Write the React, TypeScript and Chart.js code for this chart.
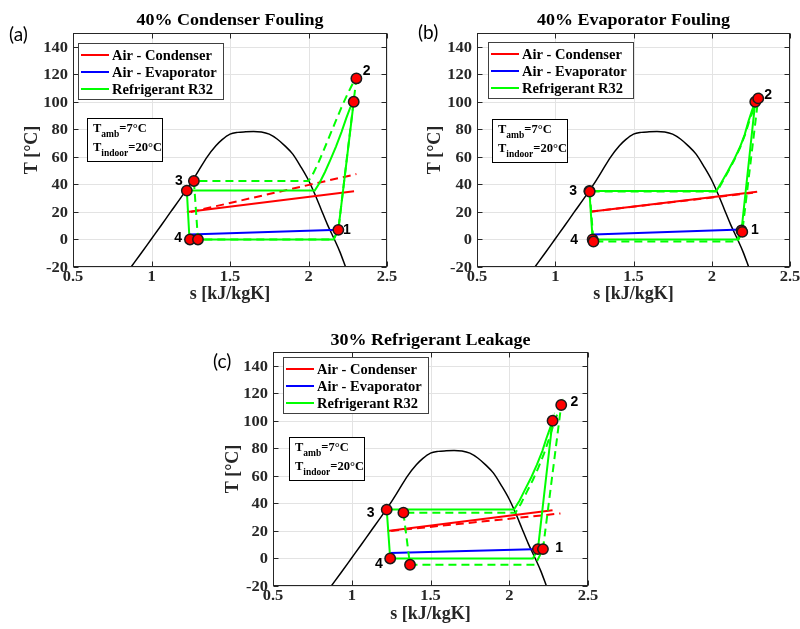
import React, { useEffect, useRef } from 'react';
import { Chart, registerables } from 'chart.js';
Chart.register(...registerables);

const SERIF = '"Liberation Serif", "Times New Roman", serif';
const SANS = '"Liberation Sans", Arial, sans-serif';

// Saturation dome of R32 (s in kJ/kgK, T in °C)
const domeS = [0.87, 0.934, 0.997, 1.06, 1.122, 1.185, 1.245, 1.3, 1.355, 1.41, 1.45, 1.5, 1.55, 1.6, 1.65, 1.7, 1.75, 1.8, 1.85, 1.9, 1.95, 2.0, 2.04, 2.08, 2.12, 2.165, 2.2, 2.236];
const domeT = [-20, -10, 0, 10, 20, 30, 40, 50, 60, 68, 72.5, 76.5, 77.8, 78.2, 78.4, 78.1, 76.5, 73, 68, 62, 53, 43, 33, 22, 11, 0, -9, -20];

// Axis ticks
const xTickValues = [0.5, 1, 1.5, 2, 2.5];
const xTickLabels = ['0.5', '1', '1.5', '2', '2.5'];
const yTickValues = [-20, 0, 20, 40, 60, 80, 100, 120, 140];
const yTickLabels = ['-20', '0', '20', '40', '60', '80', '100', '120', '140'];
const legendLabels = ['Air - Condenser', 'Air - Evaporator', 'Refrigerant R32'];

// (a) 40% Condenser Fouling
const aCondS = [1.225, 2.29];
const aCondT = [20, 35];
const aCondFaultS = [1.25, 2.305];
const aCondFaultT = [20, 47.5];
const aEvapS = [1.242, 2.195];
const aEvapT = [3.7, 7.1];
const aCycleS = [1.225, 1.242, 2.16, 2.19, 2.288, 2.265, 2.24, 2.21, 2.175, 2.14, 2.105, 2.07, 2.04, 1.225];
const aCycleT = [35.5, 0, 0, 7, 100, 95.5, 88, 78, 67.5, 58, 49, 41, 35.5, 35.5];
const aFaultS = [1.27, 1.296, 2.16, 2.19, 2.305, 2.285, 2.25, 2.21, 2.17, 2.13, 2.094, 2.06, 2.03, 2.0, 1.27];
const aFaultT = [42.5, 0, 0, 7, 117, 114, 106, 96, 85, 74, 64, 55, 48, 42.5, 42.5];
const aMarkS = [1.225, 1.27, 1.245, 1.296, 2.19, 2.288, 2.305];
const aMarkT = [35.5, 42.5, 0, 0, 7, 100, 117];
const aLabelText = ['1', '2', '3', '4'];
const aLabelS = [2.245, 2.37, 1.175, 1.17];
const aLabelT = [7, 122, 42.5, 1];

// (b) 40% Evaporator Fouling
const bCondS = [1.222, 2.29];
const bCondT = [20.2, 34.6];
const bCondFaultS = [1.222, 2.295];
const bCondFaultT = [20.2, 34.3];
const bEvapS = [1.244, 2.19];
const bEvapT = [3.7, 7.2];
const bCycleS = [1.218, 1.239, 2.162, 2.19, 2.278, 2.258, 2.235, 2.21, 2.18, 2.14, 2.1, 2.06, 2.03, 1.218];
const bCycleT = [35.3, 0, 0, 6.5, 100, 94, 86, 76, 67, 57.5, 49, 41, 35.3, 35.3];
const bFaultS = [1.22, 1.244, 2.165, 2.195, 2.297, 2.265, 2.24, 2.212, 2.182, 2.143, 2.103, 2.064, 2.034, 1.22];
const bFaultT = [34.8, -1.5, -1.5, 5.5, 102.5, 94, 86, 76, 67, 57.5, 49, 41, 34.8, 34.8];
const bMarkS = [1.218, 1.22, 1.239, 1.244, 2.19, 2.195, 2.278, 2.297];
const bMarkT = [35.3, 34.8, 0, -1.5, 6.5, 5.5, 100, 102.5];
const bLabelText = ['1', '2', '3', '4'];
const bLabelS = [2.276, 2.36, 1.115, 1.12];
const bLabelT = [6.9, 104.5, 35.4, -0.4];

// (c) 30% Refrigerant Leakage
const cCondS = [1.227, 2.275];
const cCondT = [20, 35];
const cCondFaultS = [1.25, 2.325];
const cCondFaultT = [20, 32.7];
const cEvapS = [1.244, 2.208];
const cEvapT = [3.9, 6.8];
const cCycleS = [1.222, 1.244, 2.15, 2.182, 2.275, 2.257, 2.235, 2.21, 2.175, 2.14, 2.1, 2.065, 2.03, 1.222];
const cCycleT = [35.5, 0, 0, 6.8, 100, 94, 87, 78, 68, 59, 50, 42, 35.5, 35.5];
const cFaultS = [1.328, 1.37, 2.165, 2.214, 2.33, 2.295, 2.275, 2.25, 2.22, 2.185, 2.15, 2.11, 2.075, 2.04, 1.328];
const cFaultT = [33.3, -4.6, -4.6, 6.8, 111.5, 102, 95, 86, 76, 66, 57, 48, 40, 33.3, 33.3];
const cMarkS = [1.222, 1.328, 1.244, 1.37, 2.182, 2.214, 2.275, 2.33];
const cMarkT = [35.5, 33.3, 0, -4.6, 6.8, 6.8, 100, 111.5];
const cLabelText = ['1', '2', '3', '4'];
const cLabelS = [2.316, 2.413, 1.12, 1.173];
const cLabelT = [7.4, 113.9, 32.8, -4.2];

type PanelCfg = {
  title: string; tag: string;
  l: number; t: number; r: number; b: number;
  titleY: number; tagX: number; tagY: number; yTitleX: number; xTitleY: number;
  legX: number; legY: number; noteX: number; noteY: number;
  condS: number[]; condT: number[]; condFaultS: number[]; condFaultT: number[];
  evapS: number[]; evapT: number[]; cycleS: number[]; cycleT: number[];
  faultS: number[]; faultT: number[]; markS: number[]; markT: number[];
  labelText: string[]; labelS: number[]; labelT: number[];
};

const panels: PanelCfg[] = [
  {
    title: '40% Condenser Fouling', tag: '(a)', l: 73, t: 33, r: 387, b: 267,
    titleY: 21, tagX: 9, tagY: 35, yTitleX: 32, xTitleY: 294, legX: 78, legY: 43, noteX: 87, noteY: 118,
    condS: aCondS, condT: aCondT, condFaultS: aCondFaultS, condFaultT: aCondFaultT,
    evapS: aEvapS, evapT: aEvapT, cycleS: aCycleS, cycleT: aCycleT, faultS: aFaultS, faultT: aFaultT,
    markS: aMarkS, markT: aMarkT, labelText: aLabelText, labelS: aLabelS, labelT: aLabelT,
  },
  {
    title: '40% Evaporator Fouling', tag: '(b)', l: 477, t: 33, r: 790, b: 267,
    titleY: 21, tagX: 418, tagY: 33, yTitleX: 435, xTitleY: 294, legX: 488, legY: 42, noteX: 492, noteY: 119,
    condS: bCondS, condT: bCondT, condFaultS: bCondFaultS, condFaultT: bCondFaultT,
    evapS: bEvapS, evapT: bEvapT, cycleS: bCycleS, cycleT: bCycleT, faultS: bFaultS, faultT: bFaultT,
    markS: bMarkS, markT: bMarkT, labelText: bLabelText, labelS: bLabelS, labelT: bLabelT,
  },
  {
    title: '30% Refrigerant Leakage', tag: '(c)', l: 273, t: 352, r: 588, b: 586,
    titleY: 341, tagX: 213, tagY: 362, yTitleX: 233, xTitleY: 614, legX: 283, legY: 357, noteX: 289, noteY: 437,
    condS: cCondS, condT: cCondT, condFaultS: cCondFaultS, condFaultT: cCondFaultT,
    evapS: cEvapS, evapT: cEvapT, cycleS: cCycleS, cycleT: cCycleT, faultS: cFaultS, faultT: cFaultT,
    markS: cMarkS, markT: cMarkT, labelText: cLabelText, labelS: cLabelS, labelT: cLabelT,
  },
];

const RED = '#ff0000';
const BLUE = '#0000ff';
const GREEN = '#00ff00';
const AXIS = '#262626';
const GRID = '#e3e3e3';

// draws text horizontally widened to mimic the reference's wide serif rendering
function wideText(ctx: CanvasRenderingContext2D, txt: string, x: number, y: number, sx: number) {
  ctx.save();
  ctx.translate(x, y);
  ctx.scale(sx, 1);
  ctx.fillText(txt, 0, 0);
  ctx.restore();
}

function makeExtras(cfg: PanelCfg) {
  return {
    id: 'extras',
    beforeDatasetsDraw(chart: any) {
      const ctx: CanvasRenderingContext2D = chart.ctx;
      const { left, right, top, bottom } = chart.chartArea;
      const xs = chart.scales.x;
      const ys = chart.scales.y;
      ctx.save();
      ctx.strokeStyle = GRID;
      ctx.lineWidth = 1;
      ctx.beginPath();
      xTickValues.forEach(v => {
        const px = Math.round(xs.getPixelForValue(v)) + 0.5;
        ctx.moveTo(px, top); ctx.lineTo(px, bottom);
      });
      yTickValues.forEach(v => {
        const py = Math.round(ys.getPixelForValue(v)) + 0.5;
        ctx.moveTo(left, py); ctx.lineTo(right, py);
      });
      ctx.stroke();
      ctx.restore();
    },
    afterDraw(chart: any) {
      const ctx: CanvasRenderingContext2D = chart.ctx;
      const { left, right, top, bottom } = chart.chartArea;
      const xs = chart.scales.x;
      const ys = chart.scales.y;
      ctx.save();

      // point labels
      ctx.fillStyle = '#000';
      ctx.font = `bold 14px ${SANS}`;
      ctx.textAlign = 'center';
      ctx.textBaseline = 'middle';
      cfg.labelText.forEach((txt, i) => {
        ctx.fillText(txt, xs.getPixelForValue(cfg.labelS[i]), ys.getPixelForValue(cfg.labelT[i]));
      });

      // box and inward ticks
      ctx.strokeStyle = AXIS;
      ctx.lineWidth = 1;
      const L = Math.round(left) + 0.5, R = Math.round(right) - 0.5, T = Math.round(top) + 0.5, B = Math.round(bottom) - 0.5;
      ctx.strokeRect(L, T, R - L, B - T);
      ctx.beginPath();
      xTickValues.forEach(v => {
        const px = Math.round(xs.getPixelForValue(v)) + 0.5;
        ctx.moveTo(px, B); ctx.lineTo(px, B - 5);
        ctx.moveTo(px, T); ctx.lineTo(px, T + 5);
      });
      yTickValues.forEach(v => {
        const py = Math.round(ys.getPixelForValue(v)) + 0.5;
        ctx.moveTo(L, py); ctx.lineTo(L + 5, py);
        ctx.moveTo(R, py); ctx.lineTo(R - 5, py);
      });
      ctx.stroke();

      // tick labels
      ctx.fillStyle = AXIS;
      ctx.font = `bold 15px ${SERIF}`;
      ctx.textAlign = 'center';
      ctx.textBaseline = 'top';
      xTickValues.forEach((v, i) => {
        wideText(ctx, xTickLabels[i], xs.getPixelForValue(v), bottom + 3, 1.1);
      });
      ctx.textAlign = 'right';
      ctx.textBaseline = 'middle';
      yTickValues.forEach((v, i) => {
        wideText(ctx, yTickLabels[i], left - 5, ys.getPixelForValue(v) + 1, 1.1);
      });

      // title
      ctx.fillStyle = '#000';
      ctx.font = `bold 17px ${SERIF}`;
      ctx.textAlign = 'center';
      ctx.textBaseline = 'middle';
      wideText(ctx, cfg.title, (left + right) / 2, cfg.titleY, 1.06);

      // panel tag
      ctx.font = `19px Lato, ${SANS}`;
      ctx.textAlign = 'left';
      ctx.fillText(cfg.tag, cfg.tagX, cfg.tagY);

      // axis titles
      ctx.font = `bold 18px ${SERIF}`;
      ctx.fillStyle = AXIS;
      ctx.textAlign = 'center';
      ctx.fillText('s [kJ/kgK]', (left + right) / 2, cfg.xTitleY);
      ctx.save();
      ctx.translate(cfg.yTitleX, (top + bottom) / 2);
      ctx.rotate(-Math.PI / 2);
      ctx.fillText('T [°C]', 0, 0);
      ctx.restore();

      // legend
      const lw = 145, lh = 56;
      ctx.fillStyle = '#fff';
      ctx.fillRect(cfg.legX, cfg.legY, lw, lh);
      ctx.strokeStyle = '#404040';
      ctx.lineWidth = 1;
      ctx.strokeRect(cfg.legX + 0.5, cfg.legY + 0.5, lw, lh);
      const cols = [RED, BLUE, GREEN];
      ctx.font = `bold 14.5px ${SERIF}`;
      ctx.textAlign = 'left';
      ctx.textBaseline = 'middle';
      legendLabels.forEach((lab, i) => {
        const yy = cfg.legY + 12 + i * 17;
        ctx.strokeStyle = cols[i];
        ctx.lineWidth = 2;
        ctx.beginPath();
        ctx.moveTo(cfg.legX + 3, yy);
        ctx.lineTo(cfg.legX + 31, yy);
        ctx.stroke();
        ctx.fillStyle = '#000';
        ctx.fillText(lab, cfg.legX + 34, yy + 1);
      });

      // note box
      const nw = 75, nh = 43;
      ctx.fillStyle = '#fff';
      ctx.fillRect(cfg.noteX, cfg.noteY, nw, nh);
      ctx.strokeStyle = '#000';
      ctx.lineWidth = 1;
      ctx.strokeRect(cfg.noteX + 0.5, cfg.noteY + 0.5, nw, nh);
      ctx.fillStyle = '#000';
      ctx.textBaseline = 'alphabetic';
      const rows: [string, string][] = [['amb', '=7°C'], ['indoor', '=20°C']];
      rows.forEach(([sub, rest], i) => {
        const base = cfg.noteY + 14 + i * 19;
        let x = cfg.noteX + 6;
        ctx.font = `bold 12.5px ${SERIF}`;
        ctx.fillText('T', x, base);
        x += ctx.measureText('T').width;
        ctx.font = `bold 9.5px ${SERIF}`;
        ctx.fillText(sub, x, base + 5);
        x += ctx.measureText(sub).width;
        ctx.font = `bold 12.5px ${SERIF}`;
        ctx.fillText(rest, x, base);
      });

      ctx.restore();
    },
  };
}

const pts = (s: number[], t: number[]) => s.map((v, i) => ({ x: v, y: t[i] }));

function Panel({ cfg }: { cfg: PanelCfg }) {
  const ref = useRef<HTMLCanvasElement>(null);
  useEffect(() => {
    const canvas = ref.current!;
    const line = (s: number[], t: number[], color: string, width: number, dash: number[], order: number, extra: any = {}) => ({
      data: pts(s, t), showLine: true, borderColor: color, backgroundColor: color, borderWidth: width,
      borderDash: dash, pointRadius: 0, pointHoverRadius: 0, fill: false, order, ...extra,
    });
    const chart = new Chart(canvas, {
      type: 'scatter',
      data: {
        datasets: [
          {
            data: pts(cfg.markS, cfg.markT), showLine: false, pointRadius: 5.2, pointHoverRadius: 5.2,
            pointBackgroundColor: RED, pointBorderColor: '#1a1a1a', pointBorderWidth: 1.5, order: 0,
          },
          line(cfg.faultS, cfg.faultT, GREEN, 2, [8, 5], 1),
          line(cfg.cycleS, cfg.cycleT, GREEN, 2, [], 2),
          line(cfg.evapS, cfg.evapT, BLUE, 2, [], 3),
          line(cfg.condFaultS, cfg.condFaultT, RED, 2, [8, 5], 4),
          line(cfg.condS, cfg.condT, RED, 2, [], 5),
          line(domeS, domeT, '#000', 1.5, [], 6, { cubicInterpolationMode: 'monotone' }),
        ] as any,
      },
      options: {
        animation: false,
        responsive: false,
        events: [],
        layout: { padding: { left: cfg.l, top: cfg.t, right: 800 - cfg.r, bottom: 629 - cfg.b } },
        plugins: { legend: { display: false }, title: { display: false }, tooltip: { enabled: false } },
        scales: {
          x: { type: 'linear', min: 0.5, max: 2.5, display: false },
          y: { type: 'linear', min: -20, max: 150, display: false },
        },
      } as any,
      plugins: [makeExtras(cfg)],
    });
    return () => chart.destroy();
  }, [cfg]);
  return (
    <canvas ref={ref} width={800} height={629}
      style={{ position: 'absolute', left: 0, top: 0, width: 800, height: 629 }} />
  );
}

export default function App() {
  return (
    <div style={{ position: 'absolute', left: 0, top: 0, width: 800, height: 629, background: '#fff', overflow: 'hidden' }}>
      {panels.map(p => <Panel key={p.tag} cfg={p} />)}
    </div>
  );
}
